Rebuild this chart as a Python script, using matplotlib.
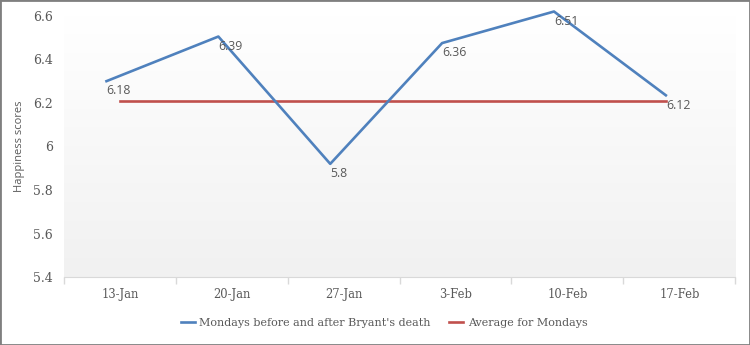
import numpy as np
import matplotlib.pyplot as plt
from matplotlib.patches import Rectangle

# --------------------
# Data
# --------------------
weeks = ["13-Jan", "20-Jan", "27-Jan", "3-Feb", "10-Feb", "17-Feb"]
mondays = [6.30, 6.505, 5.92, 6.475, 6.62, 6.235]       # drawn line position
mondays_labels = ["6.18", "6.39", "5.8", "6.36", "6.51", "6.12"]  # printed labels
average = [6.21, 6.21]
average_span = [0, 4.88]
yticks = [5.4, 5.6, 5.8, 6.0, 6.2, 6.4, 6.6]
ytick_labels = ["5.4", "5.6", "5.8", "6", "6.2", "6.4", "6.6"]

BLUE = "#4F81BD"
RED = "#C0504D"
GREY = "#595959"
SERIF = ["DejaVu Serif"]
SANS = ["Open Sans", "DejaVu Sans"]

fig = plt.figure(figsize=(7.5, 3.45), dpi=100)
ax = fig.add_axes([0.0853, 0.197, 0.895, 0.757])

# soft vertical gradient behind the plot
grad = np.linspace(1.0, 0.0, 256).reshape(-1, 1)
ax.imshow(grad, extent=[0, 1, 0, 1], transform=ax.transAxes, aspect="auto",
          cmap=plt.matplotlib.colors.LinearSegmentedColormap.from_list(
              "bg", ["#f1f1f1", "#ffffff"]), zorder=0)

x = np.arange(len(weeks))
x_line = x - 0.12
ax.plot(x_line, mondays, color=BLUE, linewidth=1.9, zorder=3, clip_on=False,
        label="Mondays before and after Bryant's death")
ax.plot(average_span, average, color=RED, linewidth=1.9, zorder=2,
        label="Average for Mondays")

for xi, yi, txt in zip(x_line, mondays, mondays_labels):
    ax.annotate(txt, (xi, yi), xytext=(0, -7), textcoords="offset points",
                ha="left", va="center", fontsize=8.8, color=GREY, zorder=4,
                family=SANS, annotation_clip=False)

ax.set_xlim(-0.5, 5.5)
ax.set_ylim(5.4, 6.6)
ax.set_yticks(yticks)
ax.set_yticklabels(ytick_labels, fontsize=9, color=GREY, family=SERIF)
ax.tick_params(axis="y", length=0, pad=8)

ax.set_xticks(x)
ax.set_xticklabels(weeks, fontsize=8.3, color=GREY, family=SERIF)
ax.set_xticks(np.arange(-0.5, 6, 1), minor=True)
ax.tick_params(axis="x", which="major", length=0, pad=8)
ax.tick_params(axis="x", which="minor", length=5, color="#d9d9d9", width=1)

for s in ["top", "right", "left"]:
    ax.spines[s].set_visible(False)
ax.spines["bottom"].set_color("#d9d9d9")

ax.set_ylabel("Happiness scores", fontsize=8, color=GREY, family=SANS, labelpad=6)

fig.legend(loc="center", bbox_to_anchor=(0.512, 0.064), ncol=2, frameon=False,
           prop={"family": SERIF, "size": 8}, labelcolor=GREY,
           handlelength=1.3, handletextpad=0.4, columnspacing=1.6)

fig.patches.append(Rectangle((0, 0), 1, 1, transform=fig.transFigure,
                             fill=False, edgecolor="#7f7f7f", linewidth=2.0))

fig.savefig("out.png", dpi=100)
